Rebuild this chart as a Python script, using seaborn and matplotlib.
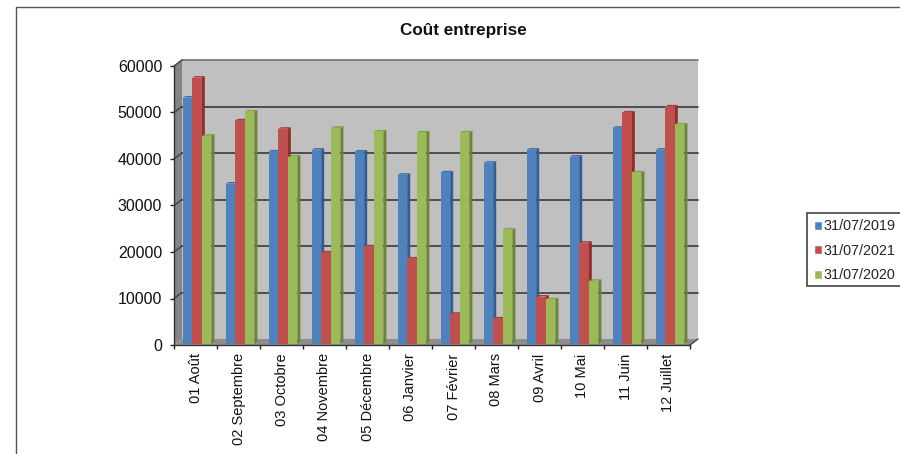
import numpy as np
import pandas as pd
import seaborn as sns
import matplotlib.pyplot as plt
from matplotlib.lines import Line2D
from matplotlib.patches import Polygon, Rectangle
from matplotlib.transforms import ScaledTranslation

months = ['01 Août', '02 Septembre', '03 Octobre', '04 Novembre', '05 Décembre', '06 Janvier',
          '07 Février', '08 Mars', '09 Avril', '10 Mai', '11 Juin', '12 Juillet']
cost_2019 = [52900, 34400, 41300, 41700, 41300, 36300, 36800, 38900, 41700, 40200, 46400, 41700]
cost_2021 = [57200, 48000, 46200, 19600, 20900, 18300, 6400, 5400, 10100, 21700, 49700, 51000]
cost_2020 = [44700, 49900, 40200, 46400, 45600, 45400, 45400, 24500, 9500, 13500, 36800, 47100]
series_names = ['31/07/2019', '31/07/2021', '31/07/2020']
yticks = [0, 10000, 20000, 30000, 40000, 50000, 60000]

colors = ['#4F81BD', '#C0504D', '#9BBB59']
side_colors = ['#2F5F92', '#8E2F2C', '#6B8534']
top_colors = ['#3B6DA6', '#A83E3B', '#84A044']

df = pd.DataFrame({
    'mois': months * 3,
    'date': np.repeat(series_names, len(months)),
    'cout': cost_2019 + cost_2021 + cost_2020,
})

sns.set_theme(style='white')
plt.rcParams['font.family'] = ['Liberation Sans', 'DejaVu Sans']

W, H = 900, 454
fig = plt.figure(figsize=(W / 100, H / 100), dpi=100)
ax = fig.add_axes([174 / W, (H - 345) / H, 516 / W, 279 / H])

sns.barplot(data=df, x='mois', y='cout', hue='date', order=months, hue_order=series_names,
            palette=colors, width=0.67, saturation=1, ax=ax, legend=True, zorder=4)

ax.set_xlim(-0.5, 11.5)
ax.set_ylim(0, 60000)
ax.set_xlabel('')
ax.set_ylabel('')

# 3d look: wall depth in axes fractions
dx, dy = 8 / 516, 6 / 279
wall = ax.transAxes
ax.add_patch(Rectangle((dx, dy), 1, 1, transform=wall, fc='#C0C0C0', ec='none', zorder=0, clip_on=False))
ax.add_patch(Polygon([(0, 0), (dx, dy), (dx, 1 + dy), (0, 1)], transform=wall, fc='#858585', ec='none',
                     zorder=0.5, clip_on=False))
ax.add_patch(Polygon([(0, 0), (1, 0), (1 + dx, dy), (dx, dy)], transform=wall, fc='#8E8E8E', ec='none',
                     zorder=0.5, clip_on=False))

for v in yticks[1:]:
    f = v / 60000
    lc = '#7A7A7A' if v == 60000 else '#454545'
    ax.add_line(Line2D([dx, 1 + dx], [f + dy, f + dy], transform=wall, color=lc, lw=1.3, zorder=1, clip_on=False))
    ax.add_line(Line2D([0, dx], [f, f + dy], transform=wall, color='#454545', lw=1.1, zorder=1, clip_on=False))
ax.add_line(Line2D([1, 1 + dx], [0, dy], transform=wall, color='#454545', lw=1, zorder=1, clip_on=False))

# bars stand in the middle of the floor, with a side and a top face
shift = ScaledTranslation(1.5 / 100, 1.5 / 100, fig.dpi_scale_trans)
ddx = 3 / 43
ddy = 1.5 / 279 * 60000
for i, cont in enumerate(ax.containers):
    for bar in cont:
        x0, w, h = bar.get_x(), bar.get_width(), bar.get_height()
        bar.set_edgecolor('none')
        bar.set_transform(ax.transData + shift)
        bar.set_clip_on(False)
        side = [(x0 + w, 0), (x0 + w + ddx, ddy), (x0 + w + ddx, h + ddy), (x0 + w, h)]
        top = [(x0, h), (x0 + ddx, h + ddy), (x0 + w + ddx, h + ddy), (x0 + w, h)]
        ax.add_patch(Polygon(side, fc=side_colors[i], ec='none', zorder=3, clip_on=False,
                             transform=ax.transData + shift))
        ax.add_patch(Polygon(top, fc=top_colors[i], ec='none', zorder=3.5, clip_on=False,
                             transform=ax.transData + shift))

sns.despine(ax=ax, top=True, right=True)
for s in ['left', 'bottom']:
    ax.spines[s].set_color('#333333')
    ax.spines[s].set_linewidth(1)
    ax.spines[s].set_zorder(5)

edges = np.arange(len(months) + 1) - 0.5
ax.set_xticks(edges, labels=[''] * len(edges))
ax.set_xticks(np.arange(len(months)), labels=months, minor=True)
ax.set_yticks(yticks)
ax.tick_params(axis='x', which='major', length=3, width=1, color='#222222', direction='out', bottom=True)
ax.tick_params(axis='x', which='minor', length=0, pad=6, labelsize=10.5, labelrotation=90, labelcolor='#111111')
ax.tick_params(axis='y', length=3, width=1, color='#222222', direction='out', left=True, pad=5.5,
               labelsize=11.5, labelcolor='#111111')

handles, labels = ax.get_legend_handles_labels()
ax.get_legend().remove()
# legend box runs past the right edge of the picture, so its frame is drawn apart
fig.add_artist(Rectangle((807 / W, (H - 286) / H), 110 / W, 73 / H, transform=fig.transFigure,
                         fc='white', ec='#333333', lw=1.1))
fig.legend(handles, labels, loc='upper left', bbox_to_anchor=(807 / W, (H - 213) / H), ncol=1,
           fontsize=10.4, frameon=False, handlelength=0.6, handleheight=0.6, handletextpad=0.1,
           labelspacing=0.72, borderpad=0.45, borderaxespad=0)

fig.text(463 / W, (H - 30) / H, 'Coût entreprise', ha='center', va='center', fontsize=12.3,
         fontweight='bold', color='#111111')

# outer chart frame, cropped on the right and at the bottom
fig.add_artist(Line2D([16 / W, 16 / W], [0, (H - 7) / H], color='#555555', lw=1))
fig.add_artist(Line2D([16 / W, 1], [(H - 7) / H, (H - 7) / H], color='#555555', lw=1))

fig.savefig('out.png', dpi=100)
